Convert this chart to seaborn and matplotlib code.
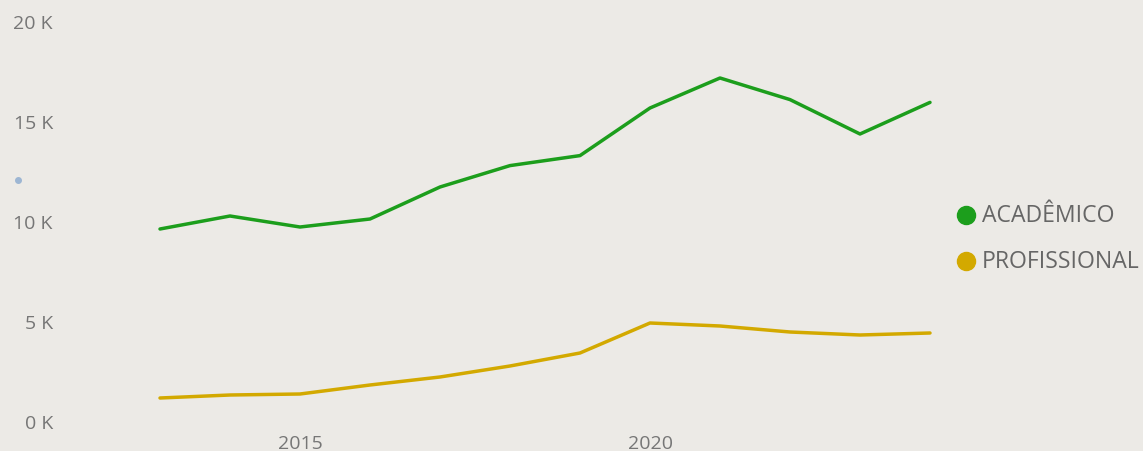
import matplotlib
matplotlib.use("Agg")
import matplotlib.pyplot as plt
import seaborn as sns
import pandas as pd
from matplotlib.lines import Line2D

years = [2013, 2014, 2015, 2016, 2017, 2018, 2019, 2020, 2021, 2022, 2023, 2024]
academico = [9600, 10250, 9700, 10100, 11700, 12770, 13270, 15650, 17150, 16070, 14350, 15930]
profissional = [1150, 1300, 1350, 1800, 2200, 2750, 3400, 4900, 4750, 4450, 4300, 4400]
series_names = ["ACADÊMICO", "PROFISSIONAL"]
colors = ["#1C9E1C", "#D3A900"]
y_ticks = [0, 5000, 10000, 15000, 20000]
y_labels = ["0 K", "5 K", "10 K", "15 K", "20 K"]
x_ticks = [2015, 2020]

df = pd.DataFrame({
    "Ano": years * 2,
    "Valor": academico + profissional,
    "Tipo": [series_names[0]] * len(years) + [series_names[1]] * len(years),
})

sns.set_theme(style="white")
plt.rcParams["font.family"] = ["Open Sans", "DejaVu Sans"]

W, H = 1143, 452
bg = "#ECEAE6"
fig = plt.figure(figsize=(W / 100, H / 100), dpi=100, facecolor=bg)
ax = fig.add_axes([125 / W, 1 - 422 / H, 840 / W, 400 / H])
ax.set_facecolor(bg)

sns.lineplot(data=df, x="Ano", y="Valor", hue="Tipo", palette=colors,
             linewidth=2.5, ax=ax, legend=False)

ax.set_xlim(2012.5, 2024.5)
ax.set_ylim(0, 20000)
ax.set_yticks(y_ticks)
ax.set_yticklabels(y_labels)
ax.set_xticks(x_ticks)
ax.set_xticklabels([str(x) for x in x_ticks])
ax.set_xlabel("")
ax.set_ylabel("")
for s in ax.spines.values():
    s.set_visible(False)
ax.tick_params(axis="y", length=0, pad=52, labelsize=14, labelcolor="#767676")
ax.tick_params(axis="x", length=0, pad=9.5, labelsize=14, labelcolor="#767676")
ax.grid(False)

# legend entries (right side)
for i, (name, c) in enumerate(zip(series_names, colors)):
    yy = 1 - (216 + 46 * i) / H
    fig.add_artist(Line2D([966 / W], [yy], transform=fig.transFigure,
                          linestyle="none", marker="o", markersize=13,
                          markerfacecolor=c, markeredgecolor=c))
    fig.text(982 / W, yy, name, fontsize=16.6, color="#666666",
             ha="left", va="center")

fig.add_artist(Line2D([18 / W], [1 - 181 / H], transform=fig.transFigure,
                      marker="o", markersize=4, color="#9DB6D3", linestyle="none"))

fig.savefig("out.png", dpi=100, facecolor=bg)
